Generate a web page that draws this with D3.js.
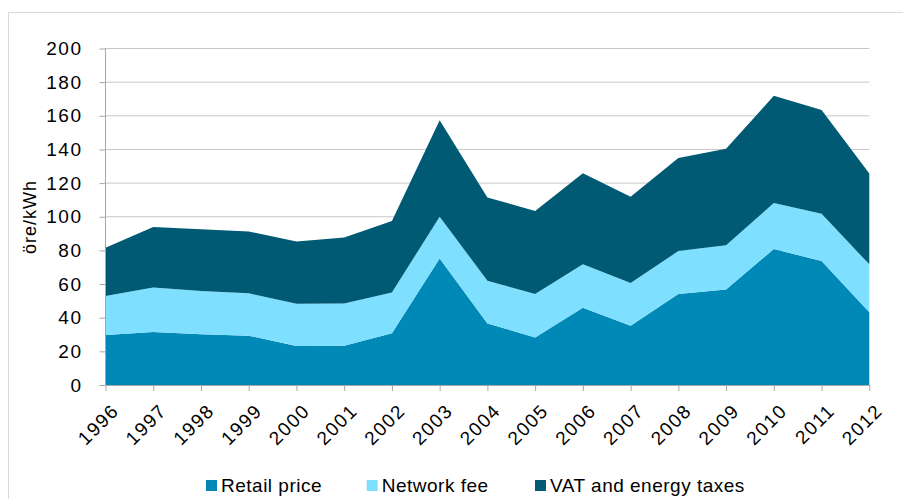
<!DOCTYPE html>
<html>
<head>
<meta charset="utf-8">
<script src="https://cdnjs.cloudflare.com/ajax/libs/d3/7.8.5/d3.min.js"></script>
<style>
    body { margin: 0; background: #fff; }
    text { font-family: "Liberation Sans", Arial, sans-serif; fill: #000; }
</style>
</head>
<body>
<div id="chart"></div>
<script>
// values (öre/kWh)
const years = ["1996", "1997", "1998", "1999", "2000", "2001", "2002", "2003", "2004",
    "2005", "2006", "2007", "2008", "2009", "2010", "2011", "2012"]
const retailPrice = [29.7, 31.5, 30.1, 29.3, 23.2, 23.4, 30.7, 75.2, 36.6, 28.3, 45.9, 35.2, 54.1, 56.8, 80.8, 73.7, 43.2]
const networkFee = [23.2, 26.5, 25.7, 25.2, 25.1, 25.1, 24.3, 24.8, 25.4, 25.8, 25.8, 25.4, 25.5, 26.2, 27.3, 28.1, 28.5]
const vatTaxes = [28.7, 35.9, 36.7, 36.8, 37.0, 39.2, 42.4, 57.4, 49.5, 49.3, 54.2, 51.3, 55.3, 57.4, 63.8, 61.6, 54.0]
const seriesNames = ["Retail price", "Network fee", "VAT and energy taxes"]
const yTicks = [0, 20, 40, 60, 80, 100, 120, 140, 160, 180, 200]

const colors = ["#0089b6", "#7fdfff", "#005a74"]

const WIDTH = 903, HEIGHT = 499
const MARGIN = { LEFT: 105.5, TOP: 48.5 }
const PW = 869.3 - MARGIN.LEFT
const PH = 385 - MARGIN.TOP

const svg = d3.select("#chart").append("svg")
    .attr("width", WIDTH)
    .attr("height", HEIGHT)

// outer frame
svg.append("rect")
    .attr("x", 8.5).attr("y", 12.5)
    .attr("width", 900).attr("height", 500)
    .attr("fill", "none")
    .attr("stroke", "#d9d9d9")
    .attr("stroke-width", 1)

const g = svg.append("g")
    .attr("transform", `translate(${MARGIN.LEFT}, ${MARGIN.TOP})`)

const table = years.map((y, i) => ({ year: y, s0: retailPrice[i], s1: networkFee[i], s2: vatTaxes[i] }))

const x = d3.scalePoint().domain(years).range([0, PW])
const y = d3.scaleLinear().domain([0, 200]).range([PH, 0])

// gridlines
g.append("g")
    .selectAll("line")
    .data(yTicks.filter(d => d > 0))
    .enter().append("line")
    .attr("x1", 0).attr("x2", PW)
    .attr("y1", d => y(d)).attr("y2", d => y(d))
    .attr("stroke", "#c6c6c6")
    .attr("stroke-width", 1)

const stack = d3.stack().keys(["s0", "s1", "s2"])
const layers = stack(table)

const area = d3.area()
    .x(d => x(d.data.year))
    .y0(d => y(d[0]))
    .y1(d => y(d[1]))

g.selectAll(".layer")
    .data(layers)
    .enter().append("path")
    .attr("class", "layer")
    .attr("d", area)
    .attr("fill", (d, i) => colors[i])

// y axis
const yAxis = g.append("g")
    .call(d3.axisLeft(y).tickValues(yTicks).tickSize(6).tickPadding(17))
yAxis.select(".domain").attr("stroke", "#a6a6a6").attr("d", `M0,${PH}V0`)
yAxis.selectAll(".tick line").attr("stroke", "#a6a6a6")
yAxis.selectAll(".tick text")
    .attr("font-size", "19px")
    .attr("letter-spacing", "1.5px")
    .attr("font-family", "Liberation Sans, Arial, sans-serif")
    .attr("fill", "#000")

// x axis
const xAxis = g.append("g")
    .attr("transform", `translate(0, ${PH})`)
    .call(d3.axisBottom(x).tickSize(6).tickSizeOuter(0))
xAxis.select(".domain").attr("stroke", "#a6a6a6")
xAxis.selectAll(".tick line").attr("stroke", "#a6a6a6")
xAxis.selectAll(".tick text")
    .attr("font-size", "19px")
    .attr("letter-spacing", "1.5px")
    .attr("font-family", "Liberation Sans, Arial, sans-serif")
    .attr("fill", "#000")
    .attr("text-anchor", "end")
    .attr("dy", null)
    .attr("y", 0)
    .attr("transform", "translate(14, 27) rotate(-45)")

// y label
svg.append("text")
    .attr("transform", "translate(36, 217) rotate(-90)")
    .attr("text-anchor", "middle")
    .attr("font-size", "18px")
    .attr("letter-spacing", "1px")
    .text("öre/kWh")

// legend
const legendX = [206, 366.7, 535]
const legend = svg.append("g")
    .selectAll("g")
    .data(seriesNames)
    .enter().append("g")
    .attr("transform", (d, i) => `translate(${legendX[i]}, 480)`)
legend.append("rect")
    .attr("width", 11).attr("height", 11)
    .attr("fill", (d, i) => colors[i])
legend.append("text")
    .attr("x", 15).attr("y", 12)
    .attr("font-size", "19px")
    .attr("letter-spacing", "0.5px")
    .text(d => d)
</script>
</body>
</html>
